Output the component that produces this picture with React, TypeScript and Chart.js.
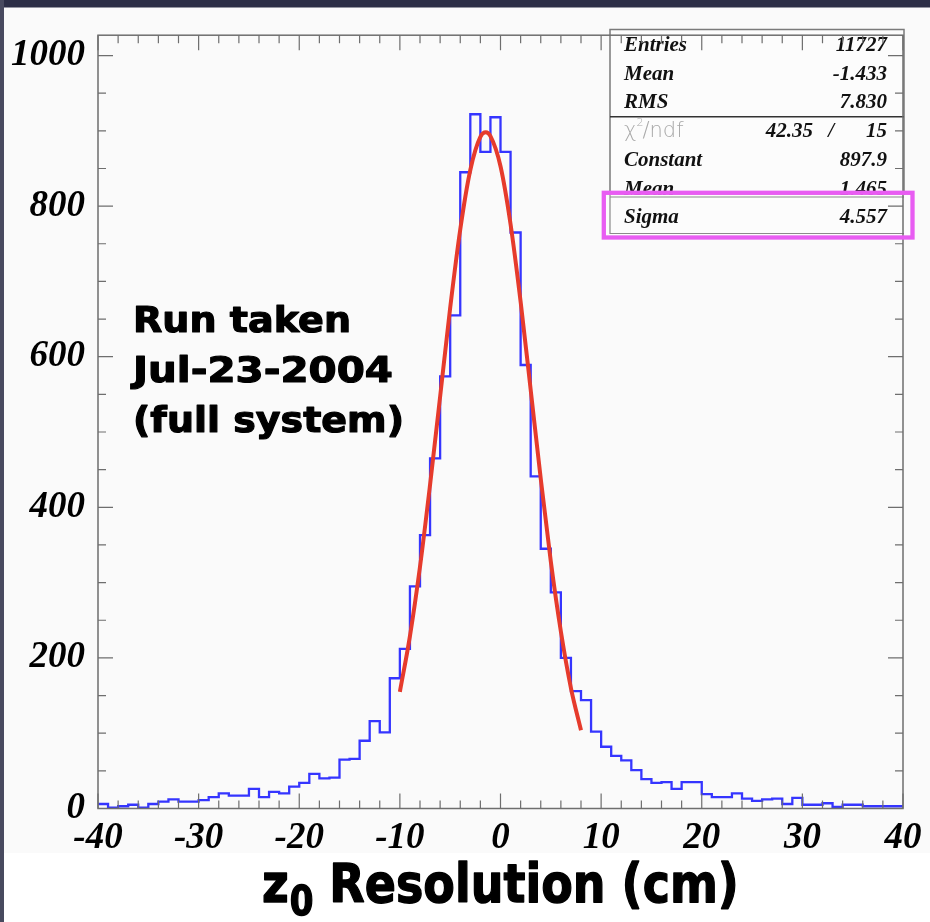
import React, { useEffect, useRef } from "react";
import { Chart, registerables } from "chart.js";

Chart.register(...registerables);

// ---------- data ----------
const BIN_LOW = -40;
const BIN_WIDTH = 1;
// counts per 1 cm bin, from -40 to +40
const counts = [
  6, 1, 3, 5, 1, 6, 9, 12, 9, 9, // -40 .. -31
  11, 15, 20, 17, 17, 26, 15, 22, 20, 29, // -30 .. -21
  34, 46, 40, 41, 65, 66, 90, 116, 101, 173, // -20 .. -11
  212, 295, 363, 465, 574, 655, 845, 922, 872, 918, // -10 .. -1
  872, 765, 589, 441, 345, 287, 200, 156, 144, 102, // 0 .. 9
  82, 70, 64, 51, 39, 34, 35, 26, 35, 35, // 10 .. 19
  19, 15, 15, 20, 13, 10, 12, 13, 6, 14, // 20 .. 29
  5, 5, 7, 2, 5, 5, 3, 3, 3, 3, // 30 .. 39
];

// Gaussian fit curve as drawn (red)
const fitX = [-10, -9, -8, -7, -6, -5, -4, -3, -2, -1.465, -1, 0, 1, 2, 3, 4, 5, 6, 7, 8];
const fitY = [155, 229, 321, 430, 547, 665, 769, 848, 892, 898, 893, 853, 776, 673, 556, 438, 328, 235, 160, 104];

const xTicks = [-40, -30, -20, -10, 0, 10, 20, 30, 40];
const yTicks = [0, 200, 400, 600, 800, 1000];

const statNames = ["Entries", "Mean", "RMS"];
const statValues = ["11727", "-1.433", "7.830"];
const chi2Value = "42.35";
const ndfValue = "15";
const fitNames = ["Constant", "Mean", "Sigma"];
const fitValues = ["897.9", "1.465", "4.557"];

const noteLines = ["Run taken", "Jul-23-2004", "(full system)"];

// ---------- layout ----------
const W = 930;
const H = 922;
const SERIF_BI = (s: number) => `italic bold ${s}px "Liberation Serif", "DejaVu Serif", serif`;
const SANS_B = (s: number) => `bold ${s}px "DejaVu Sans", "Liberation Sans", sans-serif`;

function drawScaledText(ctx: CanvasRenderingContext2D, text: string, x: number, y: number, targetW: number, heavy = 0) {
  const w = ctx.measureText(text).width;
  ctx.save();
  ctx.translate(x, y);
  ctx.scale(targetW / w, 1);
  if (heavy > 0) {
    ctx.lineWidth = heavy;
    ctx.lineJoin = "round";
    ctx.strokeStyle = ctx.fillStyle as string;
    ctx.strokeText(text, 0, 0);
  }
  ctx.fillText(text, 0, 0);
  ctx.restore();
}

const decor = {
  id: "decor",
  beforeDraw(chart: any) {
    const ctx: CanvasRenderingContext2D = chart.ctx;
    ctx.save();
    ctx.fillStyle = "#fafafa";
    ctx.fillRect(0, 0, W, H);
    ctx.fillStyle = "#ffffff";
    ctx.fillRect(0, 853, W, H - 853);
    ctx.fillStyle = "#2c2e46";
    ctx.fillRect(0, 0, W, 7.5);
    ctx.fillStyle = "#484a5f";
    ctx.fillRect(0, 0, 4, H);
    ctx.restore();
  },
  afterDraw(chart: any) {
    const ctx: CanvasRenderingContext2D = chart.ctx;
    const xs = chart.scales.x;
    const ys = chart.scales.y;
    const a = chart.chartArea;
    ctx.save();

    // annotation text
    ctx.fillStyle = "#000";
    ctx.font = SANS_B(36);
    ctx.textAlign = "left";
    ctx.textBaseline = "alphabetic";
    const noteW = [218, 260, 271];
    noteLines.forEach((t, i) => drawScaledText(ctx, t, 133, 332 + i * 50, noteW[i], 1.2));

    // x axis title with subscript
    {
      const big = 54;
      const small = 40;
      ctx.font = SANS_B(big);
      const wz = ctx.measureText("z").width;
      const wr = ctx.measureText(" Resolution (cm)").width;
      ctx.font = SANS_B(small);
      const w0 = ctx.measureText("0").width;
      const total = wz + w0 + wr;
      const sx = 476 / total;
      ctx.save();
      ctx.translate(262, 902);
      ctx.scale(sx, 1);
      ctx.lineWidth = 1.4;
      ctx.lineJoin = "round";
      ctx.strokeStyle = "#000";
      ctx.font = SANS_B(big);
      ctx.strokeText("z", 0, 0);
      ctx.fillText("z", 0, 0);
      ctx.font = SANS_B(small);
      ctx.strokeText("0", wz + 1, 13);
      ctx.fillText("0", wz + 1, 13);
      ctx.font = SANS_B(big);
      ctx.strokeText(" Resolution (cm)", wz + w0 + 1, 0);
      ctx.fillText(" Resolution (cm)", wz + w0 + 1, 0);
      ctx.restore();
    }

    // stats box
    const bx0 = 610, bx1 = 904, by0 = 29.5, by1 = 233.5;
    const pitch = 28.7;
    const base0 = 51;
    const labelX = 624;
    const valueX = 887;
    ctx.fillStyle = "#fcfcfc";
    ctx.fillRect(bx0, by0, bx1 - bx0, by1 - by0);
    ctx.strokeStyle = "#7a7a7a";
    ctx.lineWidth = 1.5;
    ctx.strokeRect(bx0, by0, bx1 - bx0, by1 - by0);
    ctx.strokeStyle = "#333";
    ctx.beginPath();
    ctx.moveTo(bx0, 116.7);
    ctx.lineTo(bx1, 116.7);
    ctx.stroke();

    ctx.fillStyle = "#111";
    ctx.font = SERIF_BI(21);
    statNames.forEach((n, i) => {
      const y = base0 + pitch * i;
      ctx.textAlign = "left";
      ctx.fillText(n, labelX, y);
      ctx.textAlign = "right";
      ctx.fillText(statValues[i], valueX, y);
    });
    // chi2 row
    {
      const y = base0 + pitch * 3;
      ctx.fillStyle = "#a8a8a8";
      ctx.textAlign = "left";
      ctx.font = `300 21px "DejaVu Sans", "Liberation Sans", sans-serif`;
      ctx.fillText("\u03c7", labelX, y);
      const wc = ctx.measureText("\u03c7").width;
      ctx.font = `300 11px "DejaVu Sans", sans-serif`;
      ctx.fillText("2", labelX + wc, y - 11);
      ctx.font = `300 21px "DejaVu Sans", "Liberation Sans", sans-serif`;
      ctx.fillText("/ndf", labelX + wc + 6, y);
      ctx.fillStyle = "#111";
      ctx.font = SERIF_BI(21);
      ctx.textAlign = "right";
      ctx.fillText(chi2Value, 813, y);
      ctx.fillText("/", 834, y);
      ctx.fillText(ndfValue, valueX, y);
    }
    fitNames.forEach((n, i) => {
      const y = base0 + pitch * (4 + i);
      ctx.textAlign = "left";
      ctx.fillText(n, labelX, y);
      ctx.textAlign = "right";
      ctx.fillText(fitValues[i], valueX, y);
    });

    // covered part (highlight box interior)
    ctx.fillStyle = "#fcfcfc";
    ctx.fillRect(606, 195, 304, 40);
    ctx.fillStyle = "#111";
    ctx.font = SERIF_BI(21);
    {
      const y = base0 + pitch * 6;
      ctx.textAlign = "left";
      ctx.fillText(fitNames[2], labelX, y);
      ctx.textAlign = "right";
      ctx.fillText(fitValues[2], valueX, y);
    }
    ctx.strokeStyle = "#8a8a8a";
    ctx.lineWidth = 1.2;
    ctx.beginPath();
    ctx.moveTo(bx0, 197);
    ctx.lineTo(bx1, 197);
    ctx.moveTo(bx0, 195);
    ctx.lineTo(bx0, by1);
    ctx.lineTo(bx1, by1);
    ctx.stroke();

    // frame and ticks
    ctx.strokeStyle = "#6e6e6e";
    ctx.lineWidth = 1.5;
    ctx.strokeRect(a.left, a.top, a.right - a.left, a.bottom - a.top);
    ctx.lineWidth = 1.2;
    ctx.beginPath();
    for (let v = -40; v <= 40; v += 2) {
      const px = xs.getPixelForValue(v);
      const len = v % 10 === 0 ? 15 : 8;
      ctx.moveTo(px, a.bottom);
      ctx.lineTo(px, a.bottom - len);
      ctx.moveTo(px, a.top);
      ctx.lineTo(px, a.top + len);
    }
    for (let v = 0; v <= 1000; v += 50) {
      const py = ys.getPixelForValue(v);
      const len = v % 200 === 0 ? 15 : 8;
      ctx.moveTo(a.left, py);
      ctx.lineTo(a.left + len, py);
      ctx.moveTo(a.right, py);
      ctx.lineTo(a.right - len, py);
    }
    ctx.stroke();

    // magenta highlight
    ctx.strokeStyle = "#e85cf2";
    ctx.lineWidth = 4.3;
    ctx.strokeRect(603.8, 192.8, 308.7, 44.7);

    ctx.restore();
  },
};

export default function App() {
  const ref = useRef<HTMLCanvasElement | null>(null);

  useEffect(() => {
    if (!ref.current) return;
    const histData = [];
    for (let i = 0; i <= counts.length; i++) {
      histData.push({ x: BIN_LOW + i * BIN_WIDTH, y: counts[Math.min(i, counts.length - 1)] });
    }
    const fitData = fitX.map((x, i) => ({ x, y: fitY[i] }));

    const chart = new Chart(ref.current, {
      type: "line",
      data: {
        datasets: [
          {
            label: "fit",
            data: fitData,
            borderColor: "#e63b2c",
            borderWidth: 4,
            pointRadius: 0,
            cubicInterpolationMode: "monotone",
            fill: false,
          },
          {
            label: "z0",
            data: histData,
            borderColor: "#3535ff",
            borderWidth: 2.3,
            pointRadius: 0,
            stepped: "before",
            fill: false,
          },
        ],
      } as any,
      options: {
        responsive: false,
        animation: false,
        devicePixelRatio: 1,
        layout: { padding: { top: 28.5, right: 27, left: 0, bottom: 0 } },
        plugins: {
          legend: { display: false },
          tooltip: { enabled: false },
          title: { display: false },
        },
        scales: {
          x: {
            type: "linear",
            min: -40,
            max: 40,
            afterBuildTicks: (s: any) => {
              s.ticks = xTicks.map((v) => ({ value: v }));
            },
            afterFit: (s: any) => {
              s.height = H - 808.5;
            },
            grid: { display: false, drawTicks: false },
            border: { display: false },
            ticks: {
              autoSkip: false,
              maxRotation: 0,
              padding: 8,
              color: "#000",
              font: { family: '"Liberation Serif", serif', size: 37, weight: "bold", style: "italic" },
              callback: (v: any) => String(v),
            },
          },
          y: {
            type: "linear",
            min: 0,
            max: 1027,
            afterBuildTicks: (s: any) => {
              s.ticks = yTicks.map((v) => ({ value: v }));
            },
            afterFit: (s: any) => {
              s.width = 98;
            },
            grid: { display: false, drawTicks: false },
            border: { display: false },
            ticks: {
              padding: 13,
              color: "#000",
              font: { family: '"Liberation Serif", serif', size: 37, weight: "bold", style: "italic" },
              callback: (v: any) => String(v),
            },
          },
        },
      } as any,
      plugins: [decor],
    });
    return () => chart.destroy();
  }, []);

  return (
    <div style={{ position: "fixed", left: 0, top: 0, width: W, height: H }}>
      <canvas ref={ref} width={W} height={H} style={{ display: "block", width: W, height: H }} />
    </div>
  );
}
